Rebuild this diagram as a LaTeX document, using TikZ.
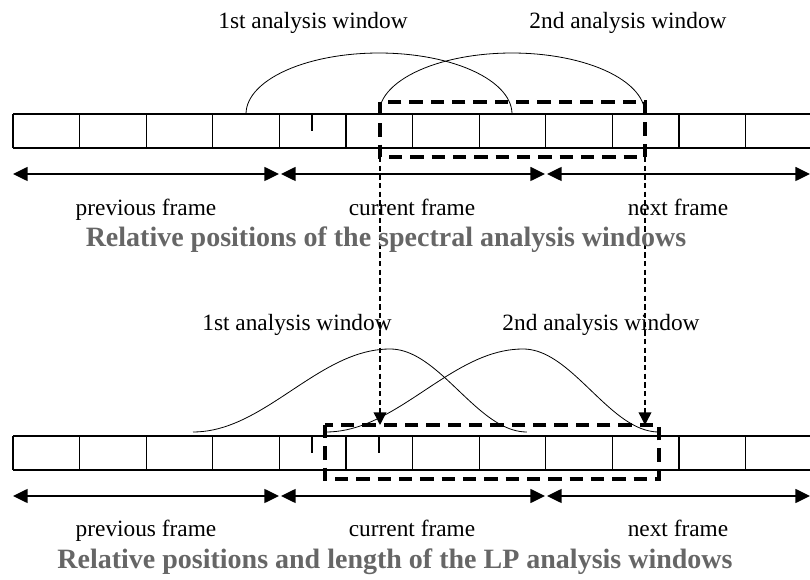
\documentclass[tikz,border=0pt]{standalone}
\usepackage{fontspec}
\setmainfont{Liberation Serif}
\usetikzlibrary{arrows.meta}
\definecolor{titlegray}{RGB}{102,102,102}

\begin{document}
\begin{tikzpicture}[x=0.75pt,y=0.75pt,yscale=-1,xscale=1,
	cell/.style={line width=0.9pt},
	barline/.style={line width=1.2pt},
	framearrow/.style={line width=1.1pt,{Triangle[length=11pt,width=10.5pt]}-{Triangle[length=11pt,width=10.5pt]}},
	winbox/.style={line width=2.3pt,dash pattern=on 10pt off 6pt},
	winarrow/.style={line width=1.1pt,dash pattern=on 4pt off 2.5pt,-{Triangle[length=9.5pt,width=9.5pt]}},
	wincurve/.style={line width=0.6pt},
	lbl/.style={anchor=base,inner sep=0.75pt,font=\fontsize{17.5}{20}\selectfont},
	ttl/.style={anchor=base,inner sep=0.75pt,text=titlegray,font=\fontsize{21}{24}\selectfont\bfseries}]
	%uncomment if require: \path (0,580); %set diagram left start at 0, and has height of 580
	\useasboundingbox (0,0) rectangle (810,580);
	
	%Shape: Frame bars (upper and lower)
	\foreach \y in {114,436}{
		\draw[barline] (13,\y) -- (810,\y) (13,\y+34) -- (810,\y+34);
		\foreach \i in {0,...,11} \draw[cell] ({13+66.6*\i},\y) -- ++(0,34);
		\draw[cell] (312,\y) -- ++(0,17);
	}
	\draw[cell] (379,436) -- ++(0,17);
	
	%Shape: Frame arrows
	\foreach \y in {174,496}{
		\draw[framearrow] (13,\y) -- (279,\y);
		\draw[framearrow] (281,\y) -- (545,\y);
		\draw[framearrow] (547,\y) -- (810,\y);
	}
	
	%Curve Lines: spectral windows
	\draw[wincurve] plot[domain=0:180,samples=60] ({379+133*cos(\x)},{114-61*sin(\x)});
	\draw[wincurve] plot[domain=0:180,samples=60] ({512+133*cos(\x)},{114-61*sin(\x)});
	
	%Curve Lines: LP windows
	\draw[wincurve] plot[domain=0:1,samples=40] ({193+197*\x},{432-83*(1-cos(180*\x))/2})
		-- plot[domain=0:1,samples=40] ({390+137*\x},{432-83*(1+cos(180*\x))/2});
	\draw[wincurve] plot[domain=0:1,samples=40] ({326+197*\x},{432-83*(1-cos(180*\x))/2})
		-- plot[domain=0:1,samples=40] ({523+136*\x},{432-83*(1+cos(180*\x))/2});
	
	%Shape: Dashed boxes
	\draw[winbox] (380,102) rectangle (645,157);
	\draw[winbox] (325,425) rectangle (659,479);
	
	%Dashed arrows between the windows
	\coordinate (spec1) at (380,157);
	\coordinate (spec2) at (645,157);
	\coordinate (lp1) at (380,425);
	\coordinate (lp2) at (645,425);
	\draw[winarrow] (spec1) -- (lp1);
	\draw[winarrow] (spec2) -- (lp2);
	
	% Text Node
	\node[lbl] (wintopa) at (313,29) {1st analysis window};
	\node[lbl] (wintopb) at (628,29) {2nd analysis window};
	\node[lbl] (prevtop) at (146,216) {previous frame};
	\node[lbl] (curtop) at (412,216) {current frame};
	\node[lbl] (nexttop) at (678,216) {next frame};
	\node[ttl] (titletop) at (386,247) {Relative positions of the spectral analysis windows};
	% Text Node
	\node[lbl] (winbota) at (297,331) {1st analysis window};
	\node[lbl] (winbotb) at (601,331) {2nd analysis window};
	\node[lbl] (prevbot) at (146,537) {previous frame};
	\node[lbl] (curbot) at (412,537) {current frame};
	\node[lbl] (nextbot) at (678,537) {next frame};
	\node[ttl] (titlebot) at (395,568) {Relative positions and length of the LP analysis windows};
	
\end{tikzpicture}
\end{document}
